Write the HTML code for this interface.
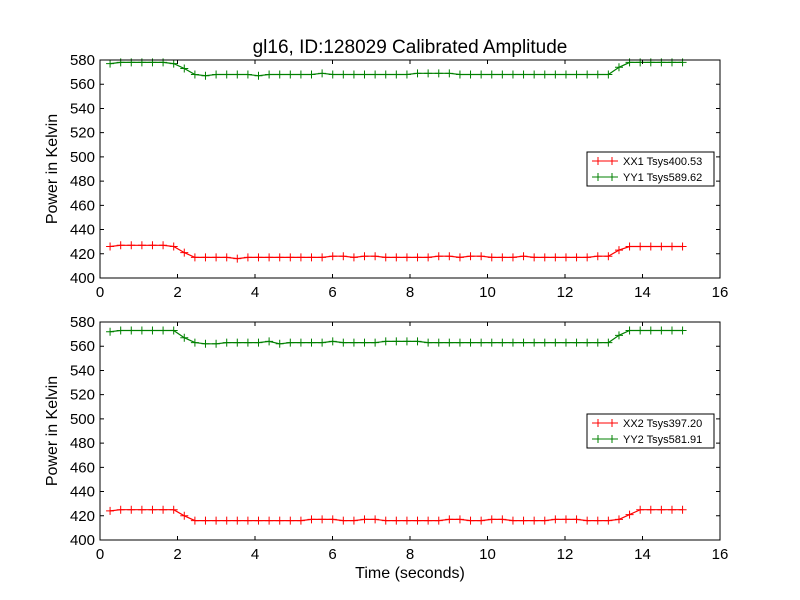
<!DOCTYPE html>
<html><head><meta charset="utf-8"><style>
body{margin:0;background:#fff}
svg{display:block;font-family:"Liberation Sans","DejaVu Sans",sans-serif}
</style></head><body>
<svg id="c" width="800" height="600" xmlns="http://www.w3.org/2000/svg">
<rect width="800" height="600" fill="#fff"/>
<text x="410" y="53" font-size="19" text-anchor="middle">gl16, ID:128029 Calibrated Amplitude</text>
<text x="410" y="578" font-size="16" text-anchor="middle">Time (seconds)</text>
</svg>
<script>
const times = Array.from({length:55},(_,i)=>+(0.26+0.2736*i).toFixed(3));
const xx1 = [426,427,427,427,427,427,426,421,417,417,417,417,416,417,417,417,417,417,417,417,417,418,418,417,418,418,417,417,417,417,417,418,418,417,418,418,417,417,417,418,417,417,417,417,417,417,418,418,423,426,426,426,426,426,426];
const yy1 = [577,578,578,578,578,578,577,573,568,567,568,568,568,568,567,568,568,568,568,568,569,568,568,568,568,568,568,568,568,569,569,569,569,568,568,568,568,568,568,568,568,568,568,568,568,568,568,568,574,578,578,578,578,578,578];
const xx2 = [424,425,425,425,425,425,425,420,416,416,416,416,416,416,416,416,416,416,416,417,417,417,416,416,417,417,416,416,416,416,416,416,417,417,416,416,417,417,416,416,416,416,417,417,417,416,416,416,417,421,425,425,425,425,425].slice(0,55);
const yy2 = [572,573,573,573,573,573,573,567,563,562,562,563,563,563,563,564,562,563,563,563,563,564,563,563,563,563,564,564,564,564,563,563,563,563,563,563,563,563,563,563,563,563,563,563,563,563,563,563,569,573,573,573,573,573,573];
const xTicks = [0,2,4,6,8,10,12,14,16];
const yTicks = [400,420,440,460,480,500,520,540,560,580];
const panels = [
 {top:60, series:[{v:xx1,c:"#ff0000",l:"XX1 Tsys400.53"},{v:yy1,c:"#008000",l:"YY1 Tsys589.62"}], legY:152},
 {top:322, series:[{v:xx2,c:"#ff0000",l:"XX2 Tsys397.20"},{v:yy2,c:"#008000",l:"YY2 Tsys581.91"}], legY:414}
];
const svg=document.getElementById('c');
const NS="http://www.w3.org/2000/svg";
function mk(t,a,p){const e=document.createElementNS(NS,t);for(const k in a)e.setAttribute(k,a[k]);(p||svg).appendChild(e);return e;}
const L=100,R=720,H=218;
const sx=t=>L+(t-0)/(16-0)*(R-L);
panels.forEach((p,pi)=>{
  const sy=v=>p.top+H-(v-400)/(180)*H;
  const g=mk('g',{});
  
  
  p.series.forEach((s,si)=>{
    const pts=times.map((t,i)=>sx(t).toFixed(1)+','+sy(s.v[i]).toFixed(1)).join(' ');
    const pl=mk('polyline',{points:pts,fill:'none',stroke:s.c,'stroke-width':1.2},g);
    
    
    let d='';
    times.forEach((t,i)=>{const x=sx(t),y=sy(s.v[i]);d+=`M${x-4},${y}H${x+4}M${x},${y-4}V${y+4}`;});
    const mkp=mk('path',{d:d,stroke:s.c,'stroke-width':1,fill:'none'},g);
    
    
  });
  const fr=mk('rect',{x:L,y:p.top,width:R-L,height:H,fill:'none',stroke:'#000','stroke-width':1},g);
  
  
  xTicks.forEach(t=>{const x=sx(t);
    mk('path',{d:`M${x},${p.top+H}v-4M${x},${p.top}v4`,stroke:'#000'},g);
    const tx=mk('text',{x:x,y:p.top+H+19,'font-size':15,'text-anchor':'middle'},g);tx.textContent=t;
    
    
  });
  yTicks.forEach(v=>{const y=sy(v);
    mk('path',{d:`M${L},${y}h4M${R},${y}h-4`,stroke:'#000'},g);
    const tx=mk('text',{x:L-5,y:y+5,'font-size':15,'text-anchor':'end'},g);tx.textContent=v;
    
    
  });
  const yt=mk('text',{x:57,y:p.top+H/2,'font-size':16,'text-anchor':'middle',transform:`rotate(-90 57 ${p.top+H/2})`},g);
  yt.textContent='Power in Kelvin';
  
  
  const lg=mk('g',{},g);
  
  
  mk('rect',{x:587,y:p.legY,width:127,height:34,fill:'#fff',stroke:'#000'},lg);
  p.series.forEach((s,si)=>{const y=p.legY+9+si*16;
    mk('path',{d:`M592,${y}h26M598,${y-4}v8M612,${y-4}v8`,stroke:s.c},lg);
    const t=mk('text',{x:623,y:y+4,'font-size':11},lg);t.textContent=s.l;
    
    
  });
});
</script>
</body></html>
